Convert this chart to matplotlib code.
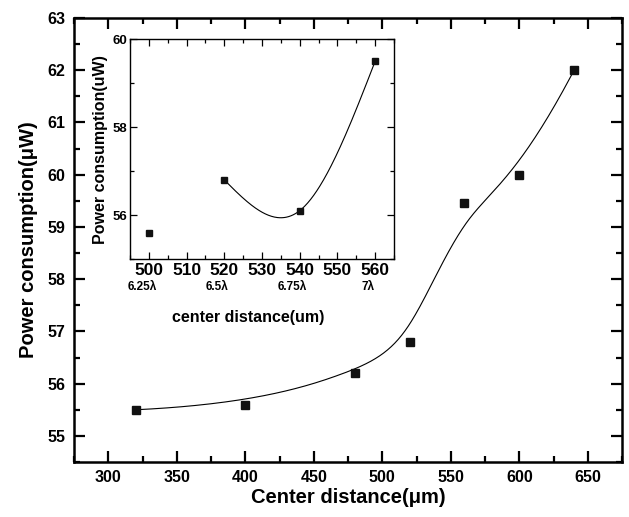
import numpy as np
import matplotlib
matplotlib.use("Agg")
import matplotlib.pyplot as plt
from matplotlib.ticker import MultipleLocator
import matplotlib.transforms as mtransforms

# ---- data ----
main_x = [320, 400, 480, 520, 560, 600, 640]
main_y = [55.5, 55.6, 56.2, 56.8, 59.45, 60.0, 62.0]

inset_x = [500, 520, 540, 560]
inset_y = [55.6, 56.8, 56.1, 59.5]
inset_lambda = ["6.25λ", "6.5λ", "6.75λ", "7λ"]
inset_curve_x = [520, 540, 560]
inset_curve_y = [56.8, 56.1, 59.5]

plt.rcParams['font.family'] = ['Liberation Sans', 'DejaVu Sans']
plt.rcParams['font.weight'] = 'bold'


def bspline_clamped(px, py, n=400, k=3):
    px = np.asarray(px, float); py = np.asarray(py, float)
    m = len(px)
    inner = np.arange(1, m - k)
    knots = np.concatenate([np.zeros(k + 1), inner, np.full(k + 1, m - k)]).astype(float)
    t = np.linspace(0, m - k, n)
    t[-1] -= 1e-9
    N = np.zeros((n, len(knots) - 1))
    for i in range(len(knots) - 1):
        N[:, i] = ((t >= knots[i]) & (t < knots[i + 1])).astype(float)
    for d in range(1, k + 1):
        Nn = np.zeros((n, len(knots) - 1 - d))
        for i in range(len(knots) - 1 - d):
            den1 = knots[i + d] - knots[i]
            den2 = knots[i + d + 1] - knots[i + 1]
            term = np.zeros(n)
            if den1 > 0:
                term += (t - knots[i]) / den1 * N[:, i]
            if den2 > 0:
                term += (knots[i + d + 1] - t) / den2 * N[:, i + 1]
            Nn[:, i] = term
        N = Nn
    return N @ px, N @ py


def natural_spline(x, y, n=200):
    x = np.asarray(x, float); y = np.asarray(y, float)
    m = len(x)
    h = np.diff(x)
    A = np.zeros((m, m)); b = np.zeros(m)
    A[0, 0] = 1; A[-1, -1] = 1
    for i in range(1, m - 1):
        A[i, i - 1] = h[i - 1]; A[i, i] = 2 * (h[i - 1] + h[i]); A[i, i + 1] = h[i]
        b[i] = 6 * ((y[i + 1] - y[i]) / h[i] - (y[i] - y[i - 1]) / h[i - 1])
    M = np.linalg.solve(A, b)
    xs = np.linspace(x[0], x[-1], n)
    ys = np.empty_like(xs)
    for j, xv in enumerate(xs):
        i = min(np.searchsorted(x, xv, side='right') - 1, m - 2)
        hi = h[i]; a = x[i + 1] - xv; c = xv - x[i]
        ys[j] = (M[i] * a**3 / (6 * hi) + M[i + 1] * c**3 / (6 * hi)
                 + (y[i] / hi - M[i] * hi / 6) * a + (y[i + 1] / hi - M[i + 1] * hi / 6) * c)
    return xs, ys


fig = plt.figure(figsize=(6.29, 5.17), dpi=100)
ax = fig.add_axes([74 / 629, 1 - 462 / 517, (622 - 74) / 629, (462 - 18) / 517])

bx, by = bspline_clamped(main_x, main_y)
ax.plot(bx, by, color='black', lw=0.8)
ax.plot(main_x, main_y, 's', color='#111111', ms=6, mec='#111111')

ax.set_xlim(275, 675)
ax.set_ylim(54.5, 63)
ax.xaxis.set_major_locator(MultipleLocator(50))
ax.xaxis.set_minor_locator(MultipleLocator(25))
ax.yaxis.set_major_locator(MultipleLocator(1))
ax.yaxis.set_minor_locator(MultipleLocator(0.5))
ax.tick_params(which='both', direction='in', top=True, right=True, width=1.6,
               labelsize=11.5, pad=6)
ax.tick_params(which='major', length=8)
ax.tick_params(which='minor', length=4)
for s in ax.spines.values():
    s.set_linewidth(1.8)
for lab in ax.get_xticklabels() + ax.get_yticklabels():
    lab.set_fontweight('bold')
ax.set_xlabel('Center distance(μm)', fontsize=14.5, fontweight='bold', labelpad=2)
ax.set_ylabel('Power consumption(μW)', fontsize=14.5, fontweight='bold', labelpad=7)

# ---- inset ----
ins = fig.add_axes([130 / 629, 1 - 259 / 517, (394 - 130) / 629, (259 - 39.3) / 517])
cx, cy = natural_spline(inset_curve_x, inset_curve_y)
ins.plot(cx, cy, color='black', lw=0.8)
ins.plot(inset_x, inset_y, 's', color='#111111', ms=3.8, mec='#111111')
ins.set_xlim(495, 565)
ins.set_ylim(55, 60)
ins.xaxis.set_major_locator(MultipleLocator(10))
ins.xaxis.set_minor_locator(MultipleLocator(5))
ins.yaxis.set_major_locator(MultipleLocator(2))
ins.yaxis.set_minor_locator(MultipleLocator(1))
ins.tick_params(which='both', direction='in', top=True, right=True, width=0.9, pad=3)
ins.tick_params(which='major', length=5)
ins.tick_params(which='minor', length=3)
ins.tick_params(axis='x', labelsize=12.5, pad=3)
ins.tick_params(axis='y', labelsize=9.5, pad=2)
for s in ins.spines.values():
    s.set_linewidth(1.0)
for lab in ins.get_xticklabels() + ins.get_yticklabels():
    lab.set_fontweight('bold')
trans = mtransforms.blended_transform_factory(ins.transData, ins.transAxes)
shift = mtransforms.ScaledTranslation(-7 / 100, 0, fig.dpi_scale_trans)
for xv, lab in zip(inset_x, inset_lambda):
    ins.text(xv, -0.127, lab, transform=trans + shift, ha='center', va='center',
             fontsize=8.5, fontweight='bold')
ins.text(0.447, -0.268, 'center distance(um)', transform=ins.transAxes,
         ha='center', va='center', fontsize=11.5, fontweight='bold')
ins.set_ylabel('Power consumption(uW)', fontsize=11.5, fontweight='bold', labelpad=3)

fig.savefig('out.png', dpi=100)
